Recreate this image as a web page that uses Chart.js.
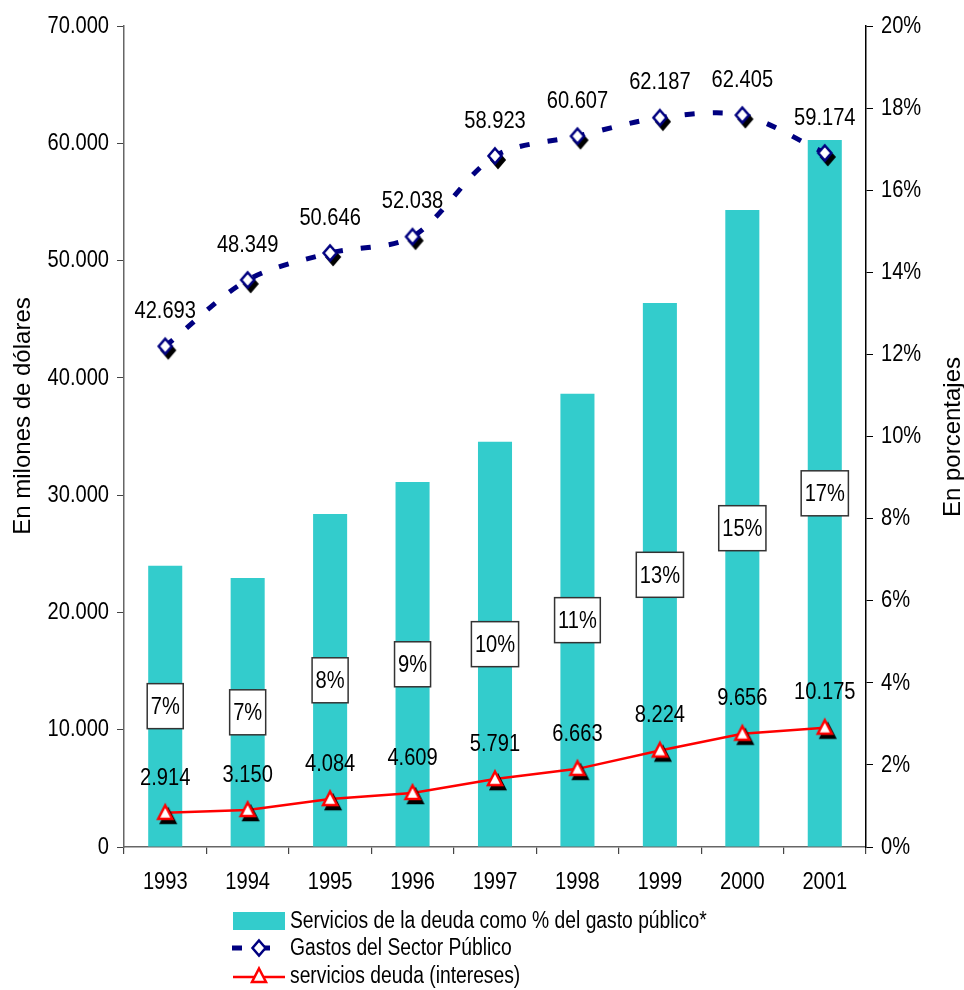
<!DOCTYPE html>
<html lang="es">
<head>
<meta charset="UTF-8">
<title>Servicios de la deuda y gasto público</title>
<script src="https://cdn.jsdelivr.net/npm/chart.js@4.4.1/dist/chart.umd.min.js"></script>
<style>
    body { margin: 0; background: #fff; }
    canvas { display: block; }
</style>
</head>
<body>
<canvas id="chart" width="964" height="990"></canvas>
<script>
    // datos
    const years = ['1993', '1994', '1995', '1996', '1997', '1998', '1999', '2000', '2001'];
    const pctServicios = [6.85, 6.55, 8.11, 8.89, 9.87, 11.04, 13.25, 15.52, 17.22];
    const pctLabels = ['7%', '7%', '8%', '9%', '10%', '11%', '13%', '15%', '17%'];
    const gastos = [42693, 48349, 50646, 52038, 58923, 60607, 62187, 62405, 59174];
    const intereses = [2914, 3150, 4084, 4609, 5791, 6663, 8224, 9656, 10175];
    const seriesNames = [
        'Servicios de la deuda como % del gasto público*',
        'Gastos del Sector Público',
        'servicios deuda (intereses)'
    ];
    const leftTitle = 'En milones de dólares';
    const rightTitle = 'En porcentajes';

    const REGULAR = '"Liberation Sans", Arial, sans-serif';
    const NARROW_SCALE = 0.82; // Arial Narrow = Arial comprimida
    const hidden = 'rgba(0,0,0,0)';
    const tickFont = { family: REGULAR, size: 24 };

    function fmt(v) {
        return String(v).replace(/\B(?=(\d{3})+(?!\d))/g, '.');
    }

    // texto "narrow": Liberation Sans escalada en horizontal
    function narrowText(ctx, text, x, y, align, size) {
        ctx.save();
        ctx.translate(x, y);
        ctx.scale(NARROW_SCALE, 1);
        ctx.font = size + 'px ' + REGULAR;
        ctx.textAlign = align;
        ctx.textBaseline = 'middle';
        ctx.fillStyle = '#000';
        ctx.fillText(text, 0, 0);
        ctx.restore();
    }

    function narrowWidth(ctx, text, size) {
        ctx.save();
        ctx.font = size + 'px ' + REGULAR;
        const w = ctx.measureText(text).width * NARROW_SCALE;
        ctx.restore();
        return w;
    }

    // marcador con sombra negra, como en Excel
    function makeMarker(kind, color, shadow) {
        const c = document.createElement('canvas');
        c.width = 30; c.height = 30;
        const g = c.getContext('2d');
        const shape = (dx, dy) => {
            const x = 15 + dx, y = 15 + dy;
            g.beginPath();
            if (kind === 'diamond') {
                g.moveTo(x, y - 7.5); g.lineTo(x + 6.5, y); g.lineTo(x, y + 7.5); g.lineTo(x - 6.5, y);
            } else {
                g.moveTo(x, y - 7.5); g.lineTo(x + 7, y + 6); g.lineTo(x - 7, y + 6);
            }
            g.closePath();
        };
        g.lineWidth = 2.5;
        if (shadow) {
            shape(3, 4);
            g.fillStyle = '#000'; g.fill();
            g.strokeStyle = '#000'; g.stroke();
        }
        shape(0, 0);
        g.fillStyle = '#fff'; g.fill();
        g.strokeStyle = color; g.stroke();
        return c;
    }

    const diamond = makeMarker('diamond', '#000080', true);
    const triangle = makeMarker('triangle', '#ff0000', true);
    const diamondLegend = makeMarker('diamond', '#000080', false);
    const triangleLegend = makeMarker('triangle', '#ff0000', false);

    const overlay = {
        id: 'overlay',
        afterDatasetsDraw(chart) {
            const ctx = chart.ctx;
            const size = 24.5;

            // etiquetas de porcentaje en las barras
            chart.getDatasetMeta(0).data.forEach((bar, i) => {
                const t = pctLabels[i];
                const w = narrowWidth(ctx, t, size) + 7;
                const h = 45;
                const cy = (bar.y + bar.base) / 2;
                ctx.save();
                ctx.fillStyle = '#fff';
                ctx.fillRect(bar.x - w / 2, cy - h / 2, w, h);
                ctx.strokeStyle = '#333';
                ctx.lineWidth = 1.5;
                ctx.strokeRect(bar.x - w / 2, cy - h / 2, w, h);
                ctx.restore();
                narrowText(ctx, t, bar.x, cy + 1, 'center', size);
            });

            // valores sobre las lineas
            [1, 2].forEach(di => {
                const vals = chart.data.datasets[di].data;
                chart.getDatasetMeta(di).data.forEach((pt, i) => {
                    narrowText(ctx, fmt(vals[i]), pt.x, pt.y - 35, 'center', size);
                });
            });
        },
        afterDraw(chart) {
            const ctx = chart.ctx;
            const size = 24.5;

            // etiquetas de los ejes, usando las posiciones de las escalas
            const sx = chart.scales.x, sy = chart.scales.y, sy2 = chart.scales.y2;
            sx.ticks.forEach((t, i) => {
                narrowText(ctx, years[i], sx.getPixelForTick(i), 882, 'center', size);
            });
            sy.ticks.forEach((t, i) => {
                narrowText(ctx, fmt(t.value), sy.right - 15, sy.getPixelForTick(i), 'right', size);
            });
            sy2.ticks.forEach((t, i) => {
                narrowText(ctx, t.value + '%', sy2.left + 15, sy2.getPixelForTick(i), 'left', size);
            });

            ctx.save();
            // titulos de los ejes (ambos de abajo hacia arriba)
            ctx.font = '24px ' + REGULAR;
            ctx.fillStyle = '#000';
            ctx.textAlign = 'center';
            ctx.textBaseline = 'middle';
            ctx.save();
            ctx.translate(23, 416);
            ctx.rotate(-Math.PI / 2);
            ctx.fillText(leftTitle, 0, 0);
            ctx.restore();
            ctx.save();
            ctx.translate(953, 437);
            ctx.rotate(-Math.PI / 2);
            ctx.fillText(rightTitle, 0, 0);
            ctx.restore();

            // leyenda
            const lx = 233, tx = 290;
            const rows = [921, 948, 976];

            ctx.fillStyle = '#33cccc';
            ctx.fillRect(lx, rows[0] - 9, 52, 18);

            ctx.save();
            ctx.beginPath();
            ctx.rect(lx - 2, rows[1] - 10, 56, 20);
            ctx.clip();
            ctx.strokeStyle = '#000080';
            ctx.lineWidth = 5;
            ctx.setLineDash([10, 18]);
            ctx.beginPath();
            ctx.moveTo(lx - 1, rows[1]);
            ctx.lineTo(lx + 54, rows[1]);
            ctx.stroke();
            ctx.restore();
            ctx.drawImage(diamondLegend, lx + 26 - 15, rows[1] - 15);

            ctx.strokeStyle = '#ff0000';
            ctx.lineWidth = 2.5;
            ctx.beginPath();
            ctx.moveTo(lx, rows[2] + 1);
            ctx.lineTo(lx + 52, rows[2] + 1);
            ctx.stroke();
            ctx.drawImage(triangleLegend, lx + 26 - 15, rows[2] - 15);
            ctx.restore();

            seriesNames.forEach((name, i) => narrowText(ctx, name, tx, rows[i] + 1, 'left', 23.5));
        }
    };

    new Chart(document.getElementById('chart'), {
        type: 'bar',
        data: {
            labels: years,
            datasets: [
                {
                    type: 'bar',
                    label: seriesNames[0],
                    data: pctServicios,
                    yAxisID: 'y2',
                    backgroundColor: '#33cccc',
                    borderWidth: 0,
                    categoryPercentage: 1,
                    barPercentage: 0.413,
                    order: 3
                },
                {
                    type: 'line',
                    label: seriesNames[1],
                    data: gastos,
                    yAxisID: 'y',
                    borderColor: '#000080',
                    borderWidth: 5,
                    borderDash: [10, 18],
                    borderCapStyle: 'butt',
                    tension: 0.3,
                    pointStyle: diamond,
                    pointRadius: 7,
                    fill: false,
                    order: 2
                },
                {
                    type: 'line',
                    label: seriesNames[2],
                    data: intereses,
                    yAxisID: 'y',
                    borderColor: '#ff0000',
                    borderWidth: 2.5,
                    tension: 0,
                    pointStyle: triangle,
                    pointRadius: 7,
                    fill: false,
                    order: 1
                }
            ]
        },
        options: {
            responsive: false,
            animation: false,
            layout: { padding: { top: 26, left: 0, right: 0, bottom: 0 } },
            plugins: {
                legend: { display: false },
                tooltip: { enabled: false }
            },
            scales: {
                x: {
                    offset: true,
                    grid: { display: true, drawOnChartArea: false, offset: true, tickLength: 7, color: '#444', lineWidth: 1.2 },
                    border: { color: '#666', width: 1.5 },
                    ticks: { font: tickFont, color: hidden, padding: 12, maxRotation: 0 },
                    afterFit: s => { s.height = 143; }
                },
                y: {
                    position: 'left',
                    min: 0,
                    max: 70000,
                    ticks: { stepSize: 10000, callback: v => fmt(v), font: tickFont, color: hidden, padding: 8 },
                    grid: { drawOnChartArea: false, tickLength: 7, color: '#444' },
                    border: { color: '#666', width: 1.5 },
                    afterFit: s => { s.width = 124; }
                },
                y2: {
                    position: 'right',
                    min: 0,
                    max: 20,
                    ticks: { stepSize: 2, callback: v => v + '%', font: tickFont, color: hidden, padding: 8 },
                    grid: { drawOnChartArea: false, tickLength: 7, color: '#000' },
                    border: { color: '#000', width: 1.5 },
                    afterFit: s => { s.width = 98; }
                }
            }
        },
        plugins: [overlay]
    });
</script>
</body>
</html>
